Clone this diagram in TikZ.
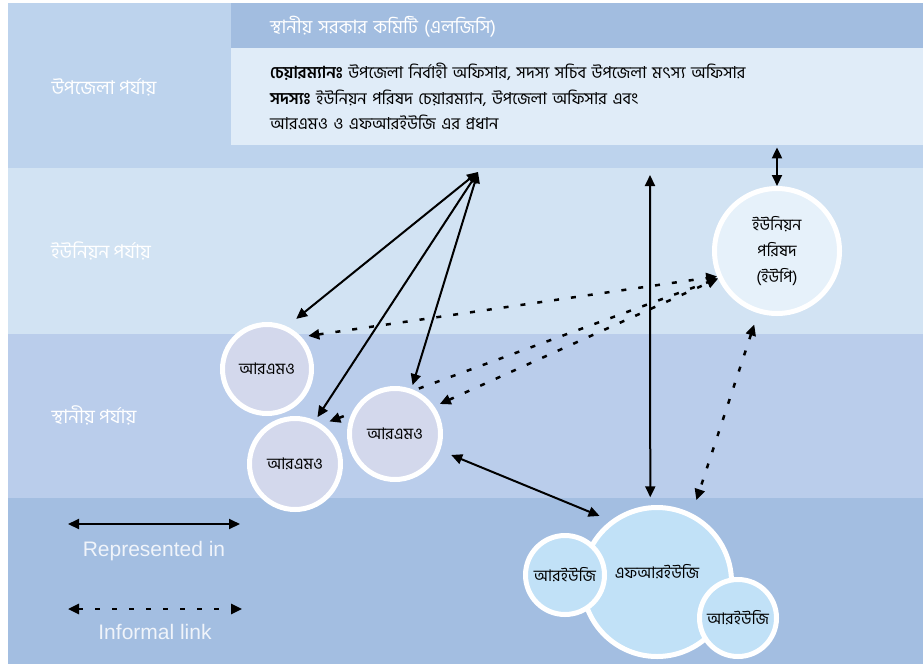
\documentclass[tikz,border=0pt]{standalone}
\usepackage{fontspec}
\setmainfont{Liberation Sans}
\newfontfamily\bn[Script=Bengali]{Hind Siliguri}
\usepackage{tikz}
\usetikzlibrary{arrows.meta, positioning, calc}

\definecolor{upzband}{RGB}{189, 211, 237}
\definecolor{uniband}{RGB}{210, 227, 243}
\definecolor{locband}{RGB}{186, 205, 235}
\definecolor{botband}{RGB}{163, 190, 225}
\definecolor{hdrblue}{RGB}{162, 189, 224}
\definecolor{infofill}{RGB}{224, 236, 248}
\definecolor{rmofill}{RGB}{211, 216, 236}
\definecolor{upfill}{RGB}{230, 241, 250}
\definecolor{frugfill}{RGB}{193, 225, 247}
\definecolor{legwhite}{RGB}{240, 244, 250}

\pgfdeclarelayer{bands}
\pgfdeclarelayer{links}
\pgfsetlayers{bands,links,main}

\tikzset{
  ring/.style={circle, draw=white, line width=5pt, inner sep=0pt, align=center},
  rmo/.style={ring, fill=rmofill, minimum size=91pt, font=\bn\fontsize{16}{18}\selectfont},
  rug/.style={ring, fill=frugfill, minimum size=79pt, font=\bn\fontsize{16}{18}\selectfont},
  lvltxt/.style={text=white, font=\bn\fontsize{19}{21}\selectfont},
  legtxt/.style={text=legwhite, font=\fontsize{21}{23}\selectfont},
  rep/.style={arrows={Triangle[length=11pt, width=10pt]-Triangle[length=11pt, width=10pt]}, line width=2pt, black},
  inf/.style={rep, line width=2.5pt, dash pattern=on 5pt off 12pt}
}

\begin{document}
\begin{tikzpicture}[x=1pt, y=-1pt]
  \useasboundingbox (0,0) rectangle (923,667);

  % Level bands
  \begin{pgfonlayer}{bands}
    \fill[upzband] (8,3) rectangle (923,168);
    \fill[uniband] (8,168) rectangle (923,334);
    \fill[locband] (8,334) rectangle (923,498);
    \fill[botband] (8,498) rectangle (923,664);
  \end{pgfonlayer}

  \node[lvltxt] (upzlvl) at (104,87) {উপজেলা পর্যায়};
  \node[lvltxt] (unilvl) at (101,251) {ইউনিয়ন পর্যায়};
  \node[lvltxt] (loclvl) at (94,415) {স্থানীয় পর্যায়};

  % LGC header and members
  \node[fill=hdrblue, anchor=north west, minimum height=46pt, inner xsep=39pt, inner ysep=0pt, text width=614pt, align=left, text=white, font=\bn\fontsize{18.5}{20}\selectfont] (hdr) at (231,3) {স্থানীয় সরকার কমিটি (এলজিসি)};
  \node[fill=infofill, anchor=north west, minimum height=97pt, inner xsep=39pt, inner ysep=0pt, text width=614pt, align=left, font=\bn\fontsize{16.5}{25.5}\selectfont] (info) at (231,48) {
    \textbf{চেয়ারম্যানঃ} উপজেলা নির্বাহী অফিসার, সদস্য সচিব উপজেলা মৎস্য অফিসার\\
    \textbf{সদস্যঃ} ইউনিয়ন পরিষদ চেয়ারম্যান, উপজেলা অফিসার এবং\\
    আরএমও ও এফআরইউজি এর প্রধান
  };

  % Bodies
  \node[ring, fill=upfill, minimum size=125pt, font=\bn\fontsize{16}{26}\selectfont] (up) at (777,251) {ইউনিয়ন\\পরিষদ\\(ইউপি)};
  \node[rmo, minimum size=89pt] (rmoa) at (267,369) {আরএমও};
  \node[rmo] (rmob) at (295,464) {আরএমও};
  \node[rmo] (rmoc) at (395,434) {আরএমও};
  \node[ring, fill=frugfill, minimum size=149pt] (frug) at (657,582) {};
  \node[font=\bn\fontsize{16}{18}\selectfont] (frugtxt) at ([yshift=10pt]frug.center) {এফআরইউজি};
  \node[rug] (ruga) at (565,575) {আরইউজি};
  \node[rug, minimum size=77pt] (rugb) at (738,618) {আরইউজি};

  \coordinate (hub) at (478,172);
  \coordinate (vtop) at (650,175);

  % Links
  \begin{pgfonlayer}{links}
    \draw[rep, shorten >=12pt] (hub) -- (rmoa.65);
    \draw[rep, shorten >=4pt] (hub) -- (rmob.65);
    \draw[rep, shorten >=4pt] (hub) -- (rmoc.70);
    \draw[rep, shorten >=8pt] (vtop) -- (frug.95);
    \draw[rep, shorten <=2pt] (up.north |- info.south) -- (up.north);
    \draw[rep, shorten <=12pt, shorten >=12pt] (rmoc.-20) -- (frug.127);
    \draw[inf, shorten <=7pt] (rmoa.43) -- (up.203);
    \draw[inf, shorten <=8pt] (rmob.56) -- (up.205);
    \draw[inf, shorten <=6pt] (rmoc.35) -- (up.205);
    \draw[inf, shorten <=12pt, shorten >=14pt] (up.253) -- (frug.63);
  \end{pgfonlayer}

  % Legend
  \coordinate (repl) at (68,524);
  \coordinate (repr) at (240,524);
  \draw[rep] (repl) -- (repr);
  \node[legtxt] (reptxt) at (154,551) {Represented in};
  \coordinate (infl) at (68,609);
  \coordinate (infr) at (242,609);
  \draw[inf] (infl) -- (infr);
  \node[legtxt] (inftxt) at (155,632) {Informal link};
\end{tikzpicture}
\end{document}
